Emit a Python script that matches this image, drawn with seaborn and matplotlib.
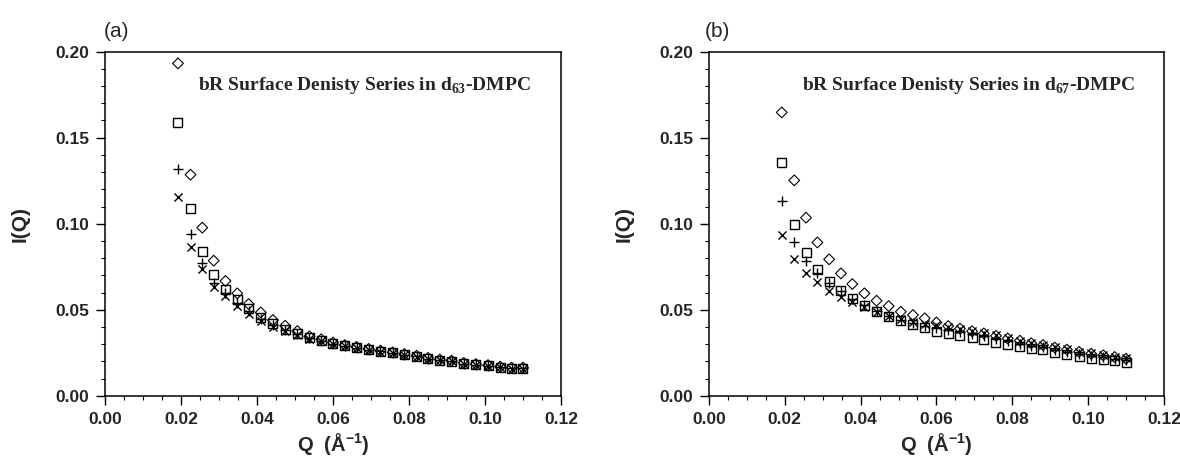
import matplotlib
matplotlib.use("Agg")
import matplotlib.pyplot as plt
import seaborn as sns
import pandas as pd
from matplotlib.ticker import MultipleLocator, FormatStrFormatter

# ---------------- data ----------------
q = [0.0192, 0.0225, 0.0256, 0.0286, 0.0317, 0.0348, 0.0378, 0.0410, 0.0442, 0.0474,
     0.0506, 0.0538, 0.0569, 0.0600, 0.0631, 0.0662, 0.0694, 0.0725, 0.0757, 0.0788,
     0.0820, 0.0850, 0.0881, 0.0912, 0.0944, 0.0976, 0.1008, 0.1040, 0.1070, 0.1100]

diamond_a = [0.1932, 0.1285, 0.0977, 0.0785, 0.0667, 0.0595, 0.0533, 0.0484, 0.0440, 0.0407,
             0.0376, 0.0345, 0.0328, 0.0309, 0.0294, 0.0284, 0.0272, 0.0262, 0.0252, 0.0242,
             0.0232, 0.0220, 0.0210, 0.0204, 0.0191, 0.0184, 0.0178, 0.0169, 0.0163, 0.0163]
square_a = [0.1587, 0.1089, 0.0837, 0.0705, 0.0618, 0.0560, 0.0508, 0.0453, 0.0420, 0.0386,
            0.0362, 0.0338, 0.0322, 0.0303, 0.0290, 0.0280, 0.0268, 0.0259, 0.0249, 0.0239,
            0.0229, 0.0217, 0.0207, 0.0201, 0.0188, 0.0181, 0.0175, 0.0166, 0.0160, 0.0160]
plus_a = [0.1316, 0.0940, 0.0769, 0.0653, 0.0595, 0.0537, 0.0490, 0.0447, 0.0412, 0.0382,
          0.0358, 0.0336, 0.0320, 0.0302, 0.0289, 0.0279, 0.0267, 0.0258, 0.0248, 0.0238,
          0.0228, 0.0216, 0.0206, 0.0200, 0.0187, 0.0180, 0.0174, 0.0165, 0.0159, 0.0159]
cross_a = [0.1157, 0.0866, 0.0734, 0.0634, 0.0580, 0.0521, 0.0475, 0.0436, 0.0401, 0.0374,
           0.0352, 0.0332, 0.0317, 0.0300, 0.0287, 0.0277, 0.0265, 0.0256, 0.0246, 0.0236,
           0.0226, 0.0215, 0.0205, 0.0199, 0.0186, 0.0179, 0.0173, 0.0164, 0.0158, 0.0158]

diamond_b = [0.1647, 0.1252, 0.1035, 0.0891, 0.0793, 0.0711, 0.0649, 0.0595, 0.0552, 0.0521,
             0.0488, 0.0469, 0.0450, 0.0426, 0.0405, 0.0390, 0.0375, 0.0362, 0.0348, 0.0333,
             0.0320, 0.0305, 0.0295, 0.0280, 0.0268, 0.0255, 0.0244, 0.0235, 0.0225, 0.0215]
square_b = [0.1357, 0.0998, 0.0835, 0.0734, 0.0663, 0.0609, 0.0566, 0.0523, 0.0488, 0.0459,
            0.0436, 0.0415, 0.0395, 0.0376, 0.0362, 0.0349, 0.0337, 0.0324, 0.0310, 0.0297,
            0.0285, 0.0273, 0.0266, 0.0250, 0.0242, 0.0227, 0.0217, 0.0211, 0.0202, 0.0194]
plus_b = [0.1132, 0.0895, 0.0785, 0.0715, 0.0657, 0.0610, 0.0562, 0.0525, 0.0490, 0.0462,
          0.0440, 0.0422, 0.0406, 0.0393, 0.0380, 0.0368, 0.0357, 0.0345, 0.0332, 0.0316,
          0.0303, 0.0290, 0.0281, 0.0266, 0.0256, 0.0243, 0.0232, 0.0224, 0.0215, 0.0206]
cross_b = [0.0934, 0.0793, 0.0715, 0.0663, 0.0610, 0.0576, 0.0543, 0.0514, 0.0484, 0.0463,
           0.0444, 0.0430, 0.0417, 0.0411, 0.0397, 0.0388, 0.0376, 0.0366, 0.0353, 0.0333,
           0.0320, 0.0304, 0.0295, 0.0281, 0.0269, 0.0256, 0.0246, 0.0236, 0.0227, 0.0217]

panel_labels = ["(a)", "(b)"]
annotations = [r"bR Surface Denisty Series in d$_{\mathbf{63}}$-DMPC",
               r"bR Surface Denisty Series in d$_{\mathbf{67}}$-DMPC"]
x_ticks = [0.00, 0.02, 0.04, 0.06, 0.08, 0.10, 0.12]
y_ticks = [0.00, 0.05, 0.10, 0.15, 0.20]

# ---------------- style ----------------
sns.set_style("white")
plt.rcParams["font.family"] = ["Liberation Sans", "DejaVu Sans"]
plt.rcParams["mathtext.fontset"] = "custom"
plt.rcParams["mathtext.bf"] = "Liberation Serif:bold"
plt.rcParams["mathtext.sf"] = "Liberation Sans:bold"
plt.rcParams["mathtext.rm"] = "Liberation Sans"

fig = plt.figure(figsize=(11.8, 4.62), dpi=100)
axes = [fig.add_axes([0.0890, 0.1435, 0.3864, 0.7446]),
        fig.add_axes([0.6008, 0.1435, 0.3856, 0.7446])]

panels = [
    [diamond_a, square_a, plus_a, cross_a],
    [diamond_b, square_b, plus_b, cross_b],
]
fig_label_x = [0.088, 0.597]

for i, ax in enumerate(axes):
    d, s, p, c = panels[i]
    sns.scatterplot(x=q, y=d, marker="D", s=30, facecolor="none", edgecolor="black",
                    linewidth=0.8, ax=ax, zorder=3)
    sns.scatterplot(x=q, y=s, marker="s", s=42, facecolor="none", edgecolor="black",
                    linewidth=1.0, ax=ax, zorder=3)
    sns.scatterplot(x=q, y=p, marker="+", s=48, color="black", linewidth=1.0, ax=ax, zorder=3)
    sns.scatterplot(x=q, y=c, marker="x", s=34, color="black", linewidth=1.0, ax=ax, zorder=3)

    ax.set_xlim(0, 0.12)
    ax.set_ylim(0, 0.20)
    ax.set_xticks(x_ticks)
    ax.set_yticks(y_ticks)
    ax.xaxis.set_major_formatter(FormatStrFormatter("%.2f"))
    ax.yaxis.set_major_formatter(FormatStrFormatter("%.2f"))
    ax.xaxis.set_minor_locator(MultipleLocator(0.005))
    ax.yaxis.set_minor_locator(MultipleLocator(0.01))
    ax.tick_params(which="major", direction="out", length=6.5, width=1.0, pad=5,
                   labelsize=12.5, color="black", bottom=True, left=True)
    ax.tick_params(which="minor", direction="out", length=3, width=0.8,
                   color="black", bottom=True, left=True)
    for lab in ax.get_xticklabels() + ax.get_yticklabels():
        lab.set_fontweight("bold")
    for sp in ax.spines.values():
        sp.set_visible(True)
        sp.set_color("black")
        sp.set_linewidth(1.1)

    ax.set_xlabel(r"Q  (Å$^{\mathsf{-1}}$)", fontsize=14.5, fontweight="bold", labelpad=3)
    ax.set_ylabel("I(Q)", fontsize=15, fontweight="bold", labelpad=18)

    ax.text(0.205, 0.89, annotations[i], transform=ax.transAxes, fontsize=14,
            fontweight="bold", family="Liberation Serif", ha="left", va="baseline")
    fig.text(fig_label_x[i], 0.92, panel_labels[i], fontsize=15, ha="left", va="baseline")

fig.savefig("out.png", dpi=100, facecolor="white")
